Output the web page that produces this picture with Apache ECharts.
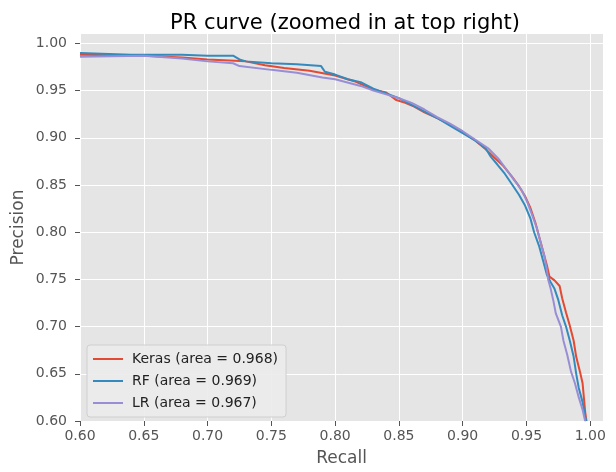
<!DOCTYPE html>
<html>
<head>
<meta charset="utf-8">
<script src="https://cdn.jsdelivr.net/npm/echarts@6/dist/echarts.min.js"></script>
<style>
  html, body { margin: 0; padding: 0; background: #fff; }
  #chart { width: 616px; height: 472px; }
</style>
</head>
<body>
<div id="chart"></div>
<script>
// tick positions
const xTicks = [0.60, 0.65, 0.70, 0.75, 0.80, 0.85, 0.90, 0.95, 1.00];
const yTicks = [0.60, 0.65, 0.70, 0.75, 0.80, 0.85, 0.90, 0.95, 1.00];

// [recall, precision]
const kerasPR = [
  [0.600, 0.988], [0.650, 0.987], [0.680, 0.985], [0.700, 0.983], [0.730, 0.981],
  [0.745, 0.977], [0.760, 0.974], [0.780, 0.971], [0.800, 0.966], [0.815, 0.960],
  [0.830, 0.951], [0.840, 0.948], [0.848, 0.940], [0.855, 0.937], [0.862, 0.933],
  [0.870, 0.927], [0.880, 0.921], [0.890, 0.914], [0.900, 0.906], [0.910, 0.897],
  [0.918, 0.888], [0.925, 0.879], [0.932, 0.870], [0.938, 0.860], [0.944, 0.849],
  [0.949, 0.838], [0.953, 0.826], [0.957, 0.810], [0.960, 0.795], [0.963, 0.780],
  [0.966, 0.765], [0.968, 0.753], [0.972, 0.749], [0.976, 0.743], [0.978, 0.730],
  [0.981, 0.715], [0.984, 0.701], [0.987, 0.685], [0.989, 0.668], [0.992, 0.652],
  [0.994, 0.640], [0.995, 0.625], [0.996, 0.610], [0.997, 0.600]
];
const rfPR = [
  [0.600, 0.990], [0.640, 0.988], [0.680, 0.988], [0.700, 0.987], [0.720, 0.987],
  [0.725, 0.983], [0.730, 0.981], [0.750, 0.979], [0.770, 0.978], [0.789, 0.976],
  [0.792, 0.970], [0.800, 0.967], [0.810, 0.962], [0.820, 0.959], [0.830, 0.952],
  [0.840, 0.947], [0.850, 0.942], [0.860, 0.935], [0.870, 0.928], [0.880, 0.921],
  [0.890, 0.913], [0.900, 0.905], [0.910, 0.897], [0.918, 0.889], [0.922, 0.880],
  [0.927, 0.872], [0.933, 0.862], [0.939, 0.850], [0.944, 0.840], [0.949, 0.828],
  [0.953, 0.815], [0.956, 0.800], [0.960, 0.785], [0.963, 0.770], [0.966, 0.755],
  [0.969, 0.747], [0.972, 0.740], [0.975, 0.728], [0.978, 0.712], [0.981, 0.700],
  [0.984, 0.685], [0.987, 0.668], [0.989, 0.650], [0.991, 0.635], [0.994, 0.620],
  [0.996, 0.605], [0.997, 0.600]
];
const lrPR = [
  [0.600, 0.986], [0.650, 0.987], [0.680, 0.984], [0.700, 0.981], [0.720, 0.979],
  [0.725, 0.976], [0.750, 0.972], [0.770, 0.969], [0.790, 0.964], [0.800, 0.962],
  [0.820, 0.955], [0.830, 0.950], [0.840, 0.946], [0.850, 0.942], [0.860, 0.937],
  [0.870, 0.930], [0.880, 0.922], [0.890, 0.915], [0.900, 0.907], [0.910, 0.898],
  [0.920, 0.889], [0.928, 0.878], [0.934, 0.867], [0.940, 0.856], [0.946, 0.845],
  [0.950, 0.834], [0.954, 0.820], [0.958, 0.805], [0.961, 0.790], [0.964, 0.775],
  [0.966, 0.760], [0.967, 0.750], [0.969, 0.740], [0.971, 0.728], [0.973, 0.714],
  [0.977, 0.700], [0.979, 0.685], [0.982, 0.670], [0.985, 0.652], [0.988, 0.640],
  [0.991, 0.625], [0.994, 0.612], [0.996, 0.600]
];

const seriesNames = ["Keras (area = 0.968)", "RF (area = 0.969)", "LR (area = 0.967)"];
const seriesColors = ["#E24A33", "#348ABD", "#988ED5"];

const font = "DejaVu Sans";
const chart = echarts.init(document.getElementById("chart"));

function axisCommon(ticks) {
  return {
    type: "value",
    min: 0.6,
    max: 1.01,
    axisLine: { show: false },
    axisTick: {
      show: true, length: 5, customValues: ticks,
      lineStyle: { color: "#555", width: 1 },
    },
    axisLabel: {
      customValues: ticks, color: "#555", fontSize: 14, fontFamily: font,
      formatter: (v) => v.toFixed(2),
    },
    splitLine: { show: true, lineStyle: { color: "#fff", width: 1 } },
  };
}

const xAxis = axisCommon(xTicks);
xAxis.name = "Recall";
xAxis.nameLocation = "middle";
xAxis.nameGap = 29;
xAxis.nameTextStyle = { color: "#555", fontSize: 17, fontFamily: font };
xAxis.axisLabel.margin = 8;

const yAxis = axisCommon(yTicks);
yAxis.name = "Precision";
yAxis.nameLocation = "middle";
yAxis.nameGap = 53;
yAxis.nameMoveOverlap = false;
yAxis.nameTextStyle = { color: "#555", fontSize: 17, fontFamily: font };
yAxis.axisLabel.margin = 13;

const data = [kerasPR, rfPR, lrPR];

const option = {
  animation: false,
  title: {
    text: "PR curve (zoomed in at top right)",
    left: 340, top: 8, textAlign: "center",
    textStyle: { color: "#000", fontSize: 21, fontWeight: "normal", fontFamily: font },
  },
  grid: {
    left: 80, right: 13, top: 34, bottom: 49,
    show: true, backgroundColor: "#E5E5E5", borderWidth: 0,
  },
  legend: {
    orient: "vertical",
    left: 87, top: 345,
    data: seriesNames,
    icon: "rect",
    itemWidth: 30, itemHeight: 2,
    itemGap: 8,
    padding: [7, 8, 7, 6],
    backgroundColor: "rgba(235,235,235,0.9)",
    borderColor: "#cfcfcf", borderWidth: 1, borderRadius: 3,
    textStyle: { color: "#222", fontSize: 14, fontFamily: font, padding: [0, 0, 0, 4] },
  },
  xAxis: xAxis,
  yAxis: yAxis,
  series: data.map((d, i) => ({
    name: seriesNames[i],
    type: "line",
    data: d,
    showSymbol: false,
    symbol: "none",
    color: seriesColors[i],
    lineStyle: { width: 2, color: seriesColors[i] },
  })),
};
chart.setOption(option);
</script>
</body>
</html>
